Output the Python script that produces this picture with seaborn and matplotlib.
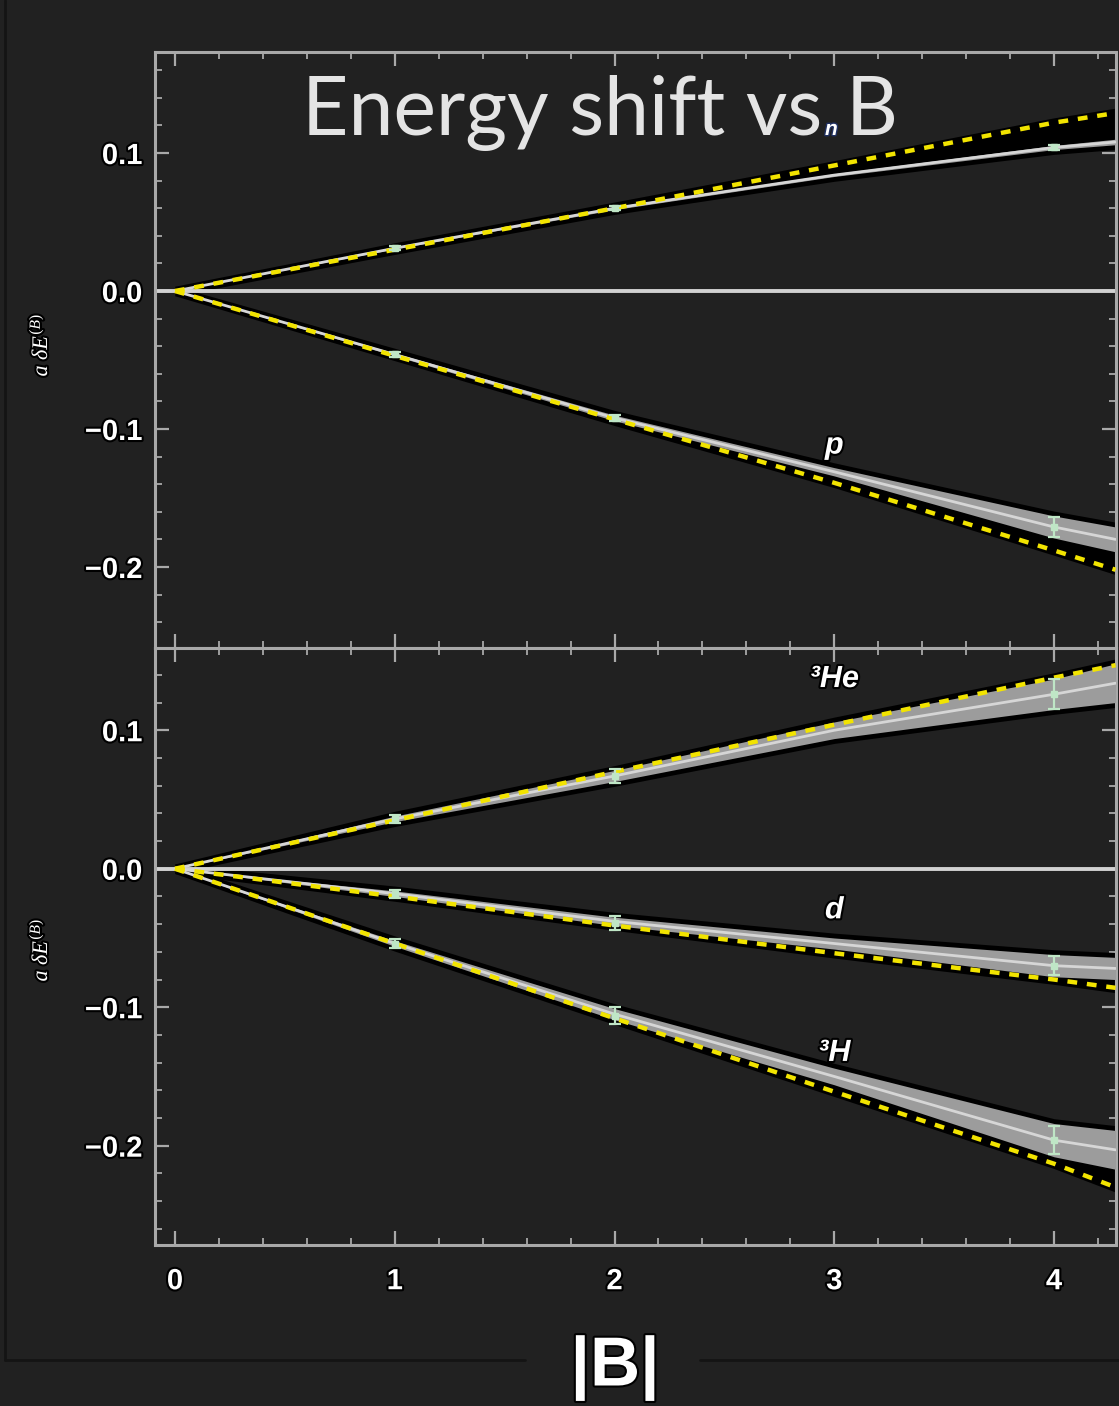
import numpy as np
import matplotlib
matplotlib.use("Agg")
import matplotlib.pyplot as plt
import matplotlib.patheffects as pe
from matplotlib.ticker import MultipleLocator, FuncFormatter
from matplotlib.lines import Line2D
import seaborn as sns

# Field strength samples |B| (lattice units)
B = [0, 1, 2, 3, 4, 4.28]

# Neutron (upper curve, top panel): fit centre, band half-width, linear LO line
n_fit = [0, 0.031, 0.060, 0.084, 0.104, 0.108]
n_hw = [0, 0.0005, 0.001, 0.001, 0.0015, 0.002]
n_lin = [0, 0.030, 0.060, 0.091, 0.122, 0.129]

# Proton
p_fit = [0, -0.046, -0.092, -0.131, -0.171, -0.180]
p_hw = [0, 0.001, 0.002, 0.003, 0.008, 0.009]
p_lin = [0, -0.047, -0.093, -0.139, -0.188, -0.202]

# Helium-3
he3_fit = [0, 0.036, 0.067, 0.100, 0.126, 0.134]
he3_hw = [0, 0.002, 0.004, 0.006, 0.011, 0.014]
he3_lin = [0, 0.035, 0.070, 0.104, 0.138, 0.147]

# Deuteron
d_fit = [0, -0.018, -0.038, -0.054, -0.070, -0.072]
d_hw = [0, 0.002, 0.003, 0.004, 0.008, 0.008]
d_lin = [0, -0.020, -0.041, -0.061, -0.080, -0.086]

# Triton
h3_fit = [0, -0.054, -0.105, -0.150, -0.196, -0.203]
h3_hw = [0, 0.002, 0.004, 0.006, 0.012, 0.014]
h3_lin = [0, -0.054, -0.108, -0.161, -0.213, -0.230]

# Lattice data points with uncertainties
B_pts = [1, 2, 4]
n_pts, n_err = [0.031, 0.060, 0.104], [0.0015, 0.0015, 0.002]
p_pts, p_err = [-0.046, -0.092, -0.171], [0.002, 0.002, 0.007]
he3_pts, he3_err = [0.036, 0.067, 0.126], [0.003, 0.005, 0.011]
d_pts, d_err = [-0.018, -0.039, -0.070], [0.003, 0.005, 0.007]
h3_pts, h3_err = [-0.054, -0.106, -0.196], [0.003, 0.006, 0.010]

BG = "#212121"
FRAME = "#a9a9a9"
YELLOW = "#f2e400"
POINT = "#bfe6c6"

sns.set_theme(style="dark", rc={
    "axes.facecolor": BG,
    "figure.facecolor": BG,
    "axes.edgecolor": FRAME,
    "axes.grid": False,
})
plt.rcParams["font.family"] = ["Liberation Sans", "DejaVu Sans"]
plt.rcParams["mathtext.fontset"] = "custom"
plt.rcParams["mathtext.rm"] = "Liberation Serif"
plt.rcParams["mathtext.it"] = "Liberation Serif:italic"
plt.rcParams["mathtext.bf"] = "Liberation Serif:bold"

W, H = 1119, 1406
fig = plt.figure(figsize=(W / 100, H / 100), dpi=100)

left = 155 / W
width = (1116 - 155) / W
ax_top = fig.add_axes([left, 1 - 648 / H, width, (648 - 52) / H])
ax_bot = fig.add_axes([left, 1 - 1245 / H, width, (1245 - 648) / H])

outline = [pe.withStroke(linewidth=3, foreground="black")]


def draw_series(ax, fit, hw, lin):
    c = np.array(fit)
    h = np.array(hw)
    y = np.array(lin)
    lo = np.minimum(c - h, y) - 0.0035
    hi = np.maximum(c + h, y) + 0.0035
    ax.fill_between(B, lo, hi, color="black", lw=0, zorder=2)
    ax.fill_between(B, c - h, c + h, color="#9c9c9c", lw=0, zorder=3)
    sns.lineplot(x=B, y=c, ax=ax, color="#d6d6d6", lw=2, zorder=4)
    sns.lineplot(x=B, y=y, ax=ax, color=YELLOW, lw=3.2,
                 linestyle=(0, (2.2, 2.2)), zorder=5)


def draw_points(ax, vals, errs):
    ax.errorbar(B_pts, vals, yerr=errs, fmt="s", ms=4, color=POINT,
                ecolor=POINT, elinewidth=1.6, capsize=4, capthick=1.6,
                zorder=6)


for ax in (ax_top, ax_bot):
    ax.axhline(0, color="#d2d2d2", lw=2.8, zorder=2.5)

draw_series(ax_top, n_fit, n_hw, n_lin)
draw_series(ax_top, p_fit, p_hw, p_lin)
draw_points(ax_top, n_pts, n_err)
draw_points(ax_top, p_pts, p_err)

draw_series(ax_bot, he3_fit, he3_hw, he3_lin)
draw_series(ax_bot, d_fit, d_hw, d_lin)
draw_series(ax_bot, h3_fit, h3_hw, h3_lin)
draw_points(ax_bot, he3_pts, he3_err)
draw_points(ax_bot, d_pts, d_err)
draw_points(ax_bot, h3_pts, h3_err)

ax_top.set_ylim(-0.2587, 0.1732)
ax_bot.set_ylim(-0.2717, 0.1594)


def yfmt(v, _):
    if abs(v) < 1e-9:
        return "0.0"
    return f"{v:.1f}".replace("-", "\u2212")


for ax in (ax_top, ax_bot):
    ax.set_xlim(-0.091, 4.282)
    ax.xaxis.set_major_locator(MultipleLocator(1))
    ax.xaxis.set_minor_locator(MultipleLocator(0.2))
    ax.yaxis.set_major_locator(MultipleLocator(0.1))
    ax.yaxis.set_minor_locator(MultipleLocator(0.02))
    ax.yaxis.set_major_formatter(FuncFormatter(yfmt))
    ax.xaxis.set_major_formatter(FuncFormatter(lambda v, _: f"{v:.0f}"))
    for s in ax.spines.values():
        s.set_color(FRAME)
        s.set_linewidth(2.2)
    ax.tick_params(which="both", direction="in", top=True, right=True,
                   bottom=True, left=True, color=FRAME)
    ax.tick_params(which="major", length=10, width=1.6, labelsize=21,
                   labelcolor="white", pad=9)
    ax.tick_params(which="minor", length=5, width=1.3)
    ax.set_xlabel("")
    ax.set_ylabel("")

ax_top.tick_params(labelbottom=False)
ax_bot.tick_params(axis="x", which="major", pad=16)

# Particle labels
lab_kw = dict(color="white", fontsize=22, fontweight="bold", style="italic",
              ha="center", va="center", zorder=8, path_effects=outline)
ax_top.text(3.0, -0.112, "p", **lab_kw)
ax_bot.text(3.0, 0.137, "\u00b3He", **lab_kw)
ax_bot.text(3.0, -0.030, "d", **lab_kw)
ax_bot.text(3.0, -0.133, "\u00b3H", **lab_kw)

# Vertical axis labels
for yc in (345, 950):
    fig.text(40 / W, 1 - yc / H, r"$a\ \delta E^{(B)}$", rotation=90,
             fontsize=16, color="white", ha="center", va="center",
             path_effects=outline)

# Title
title_kw = dict(color="#e4e4e4", fontsize=58, fontweight="normal",
                family=["Lato", "DejaVu Sans"], va="baseline")
fig.text(822 / W, 1 - 135 / H, "Energy shift vs", ha="right", **title_kw)
fig.text(825 / W, 1 - 135 / H, "n", ha="left", color="white", fontsize=15,
         fontweight="bold", style="italic", va="baseline",
         path_effects=[pe.withStroke(linewidth=2, foreground="#203060")])
fig.text(846 / W, 1 - 135 / H, "B", ha="left", **title_kw)

# Horizontal axis label
fig.text(615 / W, 1 - 1368 / H, "|B|", fontsize=50, fontweight="bold",
         color="white", ha="center", va="center", path_effects=outline)

# Thin frame lines around the plotting region
fig.add_artist(Line2D([5 / W, 5 / W], [1 - 1360 / H, 1.0],
                      transform=fig.transFigure, color="#141414", lw=2))
fig.add_artist(Line2D([5 / W, 525 / W], [1 - 1360 / H, 1 - 1360 / H],
                      transform=fig.transFigure, color="#141414", lw=2))
fig.add_artist(Line2D([700 / W, 1.0], [1 - 1360 / H, 1 - 1360 / H],
                      transform=fig.transFigure, color="#141414", lw=2))

fig.canvas.draw()
for ax in (ax_top, ax_bot):
    for lbl in ax.get_xticklabels() + ax.get_yticklabels():
        lbl.set_path_effects(outline)
        lbl.set_fontweight("bold")

fig.savefig("out.png", dpi=100, facecolor=BG)
